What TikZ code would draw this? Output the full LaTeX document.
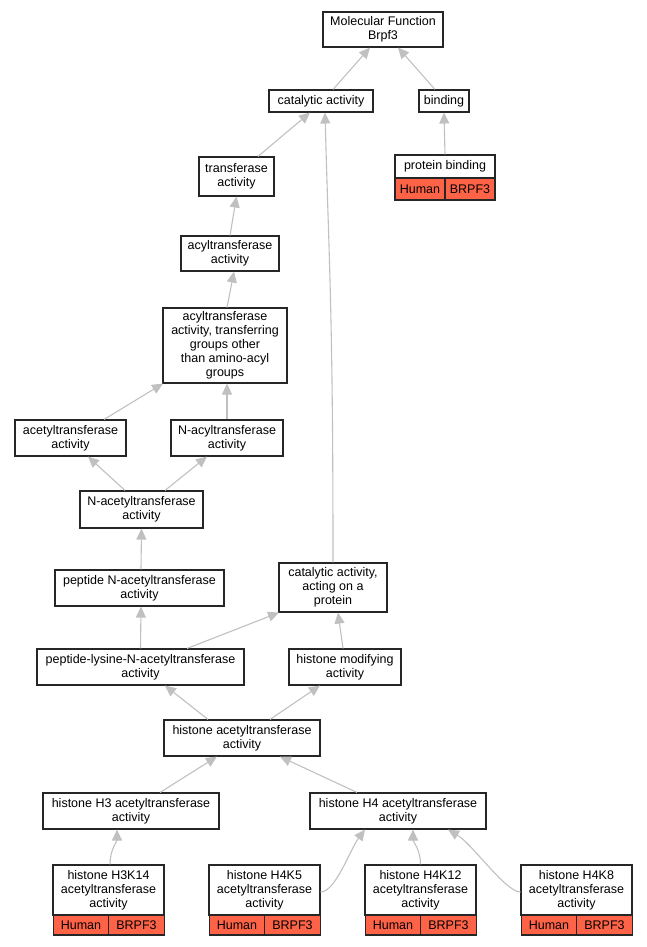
\documentclass[tikz,border=0pt]{standalone}
\usepackage{fontspec}
\setmainfont{Liberation Sans}
\usetikzlibrary{arrows.meta}
\definecolor{edgegray}{RGB}{192,192,192}
\definecolor{anncol}{RGB}{255,99,71}
\begin{document}
\begin{tikzpicture}[x=1pt,y=-1pt,
  box/.style={draw=black!85, line width=1.1pt, fill=white, inner sep=0pt, align=center,
    font=\fontsize{12.5}{14}\selectfont},
  cell/.style={box, fill=anncol},
  edge/.style={draw=edgegray, line width=1.1pt, -{Triangle[length=11pt,width=10pt,fill=edgegray]}}]
\useasboundingbox (0,0) rectangle (647,947);
% nodes
\node[box, minimum width=120, minimum height=35] (mf) at (383,29.5) {Molecular Function\\Brpf3};
\node[box, minimum width=104, minimum height=22] (cat) at (321,101) {catalytic activity};
\node[box, minimum width=50, minimum height=22] (bind) at (444,101) {binding};
\node[box, minimum width=100, minimum height=23] (pb) at (445,166.5) {protein binding};
\node[cell, minimum width=50, minimum height=22] (pbh) at (420,189) {Human};
\node[cell, minimum width=50, minimum height=22] (pbg) at (470,189) {BRPF3};
\node[box, minimum width=75, minimum height=39] (trans) at (236.5,176.5) {transferase\\activity};
\node[box, minimum width=98, minimum height=35] (acyl) at (230,253.5) {acyltransferase\\activity};
\node[box, minimum width=124, minimum height=75] (grp) at (225,345.5) {acyltransferase\\activity, transferring\\groups other\\than amino-acyl\\groups};
\node[box, minimum width=111, minimum height=36] (acet) at (70.5,438) {acetyltransferase\\activity};
\node[box, minimum width=112, minimum height=36] (nacyl) at (227,438) {N-acyltransferase\\activity};
\node[box, minimum width=123, minimum height=37] (nacet) at (141.5,509.5) {N-acetyltransferase\\activity};
\node[box, minimum width=169, minimum height=36] (pna) at (139.5,588) {peptide N-acetyltransferase\\activity};
\node[box, minimum width=108, minimum height=49] (cap) at (333,587.5) {catalytic activity,\\acting on a\\protein};
\node[box, minimum width=207, minimum height=36] (plys) at (140.5,667) {peptide-lysine-N-acetyltransferase\\activity};
\node[box, minimum width=112, minimum height=36] (hmod) at (345,667) {histone modifying\\activity};
\node[box, minimum width=156, minimum height=36] (hat) at (242,738) {histone acetyltransferase\\activity};
\node[box, minimum width=176, minimum height=36] (hthree) at (131,811) {histone H3 acetyltransferase\\activity};
\node[box, minimum width=176, minimum height=36] (hfour) at (398,811) {histone H4 acetyltransferase\\activity};
% annotated leaves
\node[box, minimum width=111, minimum height=50] (ka) at (108.5,890) {histone H3K14\\acetyltransferase\\activity};
\node[cell, minimum width=55, minimum height=20] (kah) at (81,925) {Human};
\node[cell, minimum width=56, minimum height=20] (kag) at (136.5,925) {BRPF3};
\node[box, minimum width=111, minimum height=50] (kb) at (264.5,890) {histone H4K5\\acetyltransferase\\activity};
\node[cell, minimum width=55, minimum height=20] (kbh) at (237,925) {Human};
\node[cell, minimum width=56, minimum height=20] (kbg) at (292.5,925) {BRPF3};
\node[box, minimum width=111, minimum height=50] (kc) at (420.5,890) {histone H4K12\\acetyltransferase\\activity};
\node[cell, minimum width=55, minimum height=20] (kch) at (393,925) {Human};
\node[cell, minimum width=56, minimum height=20] (kcg) at (448.5,925) {BRPF3};
\node[box, minimum width=111, minimum height=50] (kd) at (576.5,890) {histone H4K8\\acetyltransferase\\activity};
\node[cell, minimum width=55, minimum height=20] (kdh) at (549,925) {Human};
\node[cell, minimum width=56, minimum height=20] (kdg) at (604.5,925) {BRPF3};
% edges
\draw[edge] ([xshift=12pt]cat.north) -- ([xshift=-13pt]mf.south);
\draw[edge] ([xshift=-9pt]bind.north) -- ([xshift=15pt]mf.south);
\draw[edge] (pb.north) -- (bind.south);
\draw[edge] ([xshift=21.5pt]trans.north) -- ([xshift=-11pt]cat.south);
\draw[edge] (cap.north) .. controls +(0,-250) and +(4,150) .. ([xshift=4pt]cat.south);
\draw[edge] (acyl.north) -- (trans.south);
\draw[edge] ([xshift=2pt]grp.north) -- ([xshift=4pt]acyl.south);
\draw[edge] ([xshift=33.5pt]acet.north) -- ([xshift=-62pt]grp.south);
\draw[edge] (nacyl.north) -- ([xshift=2pt]grp.south);
\draw[edge] ([xshift=-16.5pt]nacet.north) -- ([xshift=17.5pt]acet.south);
\draw[edge] ([xshift=23.5pt]nacet.north) -- ([xshift=-20pt]nacyl.south);
\draw[edge] ([xshift=1.5pt]pna.north) -- (nacet.south);
\draw[edge] (plys.north) -- ([xshift=1.5pt]pna.south);
\draw[edge] ([xshift=46.5pt]plys.north) -- ([xshift=-54pt]cap.south);
\draw[edge] ([xshift=-2pt]hmod.north) -- ([xshift=5pt]cap.south);
\draw[edge] ([xshift=-34pt]hat.north) -- ([xshift=24.5pt]plys.south);
\draw[edge] ([xshift=28pt]hat.north) -- ([xshift=-25pt]hmod.south);
\draw[edge] ([xshift=29pt]hthree.north) -- ([xshift=-25pt]hat.south);
\draw[edge] ([xshift=-41pt]hfour.north) -- ([xshift=38pt]hat.south);
\draw[edge] ([xshift=1.5pt]ka.north) .. controls +(0,-15) and +(0,12) .. ([xshift=-14pt]hthree.south);
\draw[edge] ([yshift=-2pt]kb.east) .. controls +(15,0) and +(-15,20) .. ([xshift=-33pt]hfour.south);
\draw[edge] (kc.north) .. controls +(0,-15) and +(0,12) .. ([xshift=15pt]hfour.south);
\draw[edge] ([yshift=-2pt]kd.west) .. controls +(-15,0) and +(25,15) .. ([xshift=50pt]hfour.south);
\end{tikzpicture}
\end{document}
